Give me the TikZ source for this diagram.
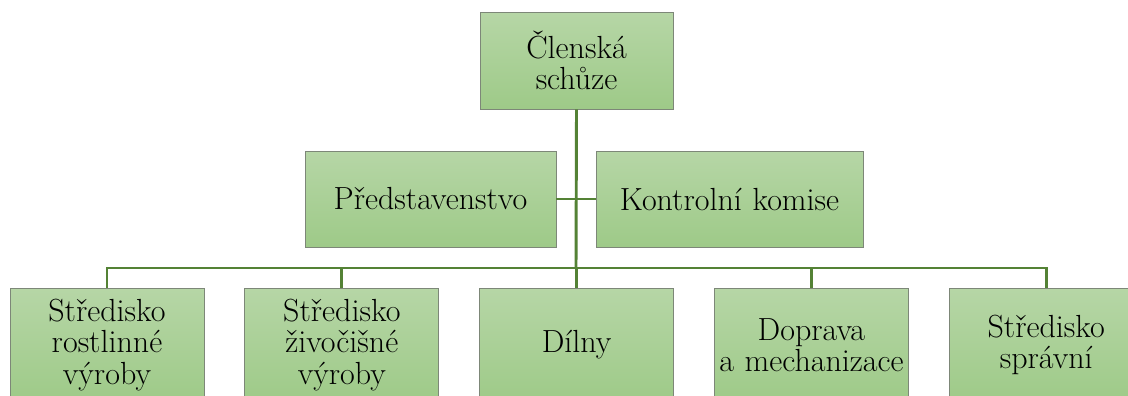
\documentclass[tikz,border=0pt]{standalone}
\usepackage{fontspec}
\usetikzlibrary{positioning}
\definecolor{unittop}{RGB}{182,214,166}
\definecolor{unitbot}{RGB}{158,202,136}
\definecolor{unitline}{RGB}{125,135,120}
\definecolor{linkgreen}{RGB}{84,130,53}

\begin{document}
\begin{tikzpicture}[
      x=0.75pt, y=-0.75pt,
      unit/.style={draw=unitline, line width=0.6pt, top color=unittop, bottom color=unitbot, align=center, inner sep=0pt, font=\fontsize{24}{23.6}\selectfont},
      lower/.style={unit, text width=145.5pt, minimum height=85.5pt},
      link/.style={draw=linkgreen, line width=2.2pt}
    ]
      \useasboundingbox (0,0) rectangle (1128,396);
      \clip (0,0) rectangle (1128,396);

      \node[unit, text width=144.75pt, minimum height=72.75pt] (schuze) at (576.5,60.5) {Členská\\schůze};

      \node[unit, text width=188.25pt, minimum height=72pt] (pred) at (430.5,199) {Představenstvo};
      \node[unit, text width=200.25pt, minimum height=72pt] (kontrola) at (729.5,199) {Kontrolní komise};

      \node[lower] (rostl) at (107,345) {Středisko\\rostlinné\\výroby};
      \node[lower, right=30pt of rostl] (zivoc) {Středisko\\živočišné\\výroby};
      \node[lower, right=30pt of zivoc] (dilny) {Dílny};
      \node[lower, right=30pt of dilny] (doprava) {Doprava\\a mechanizace};
      \node[lower, right=30pt of doprava] (sprava) {Středisko\\správní};

      \coordinate (bus) at (576,268);
      \draw[link] (schuze.south) -- (bus);
      \draw[link] (pred.east) -- (kontrola.west);
      \foreach \n in {rostl,zivoc,dilny,doprava,sprava}
        \draw[link] (bus) -| (\n.north);
    \end{tikzpicture}
\end{document}
